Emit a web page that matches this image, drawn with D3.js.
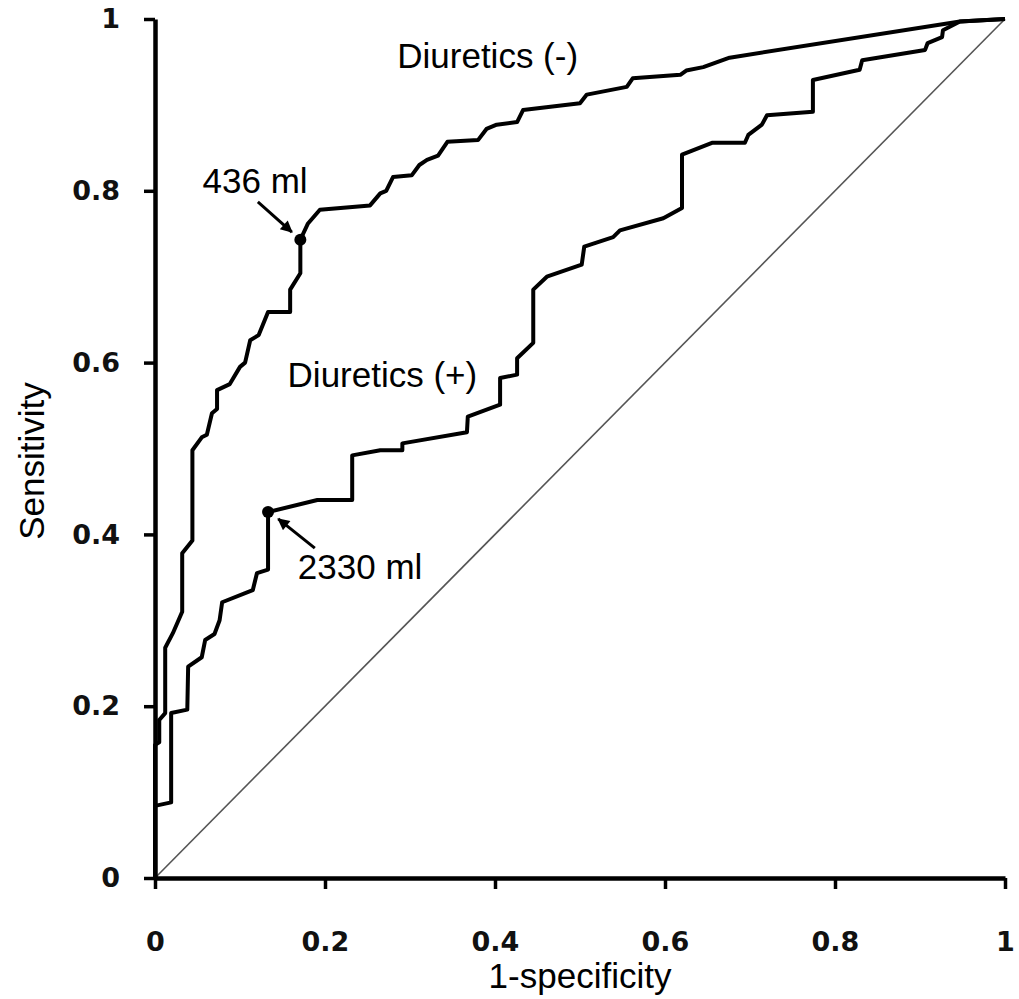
<!DOCTYPE html>
<html>
<head>
<meta charset="utf-8">
<script src="https://cdn.jsdelivr.net/npm/d3@7"></script>
<style>
  body { margin: 0; background: #fff; }
  svg { display: block; }
</style>
</head>
<body>
<div id="chart"></div>
<script>
// ROC points: [1-specificity, sensitivity]
var diureticsNeg = [
    [0, 0], [0, 0.155], [0.005, 0.158], [0.005, 0.184], [0.012, 0.192], [0.012, 0.268],
    [0.021, 0.285], [0.032, 0.31], [0.032, 0.378], [0.044, 0.393], [0.044, 0.498],
    [0.055, 0.513], [0.061, 0.516], [0.067, 0.541], [0.073, 0.546], [0.073, 0.568],
    [0.088, 0.575], [0.1, 0.595], [0.106, 0.6], [0.112, 0.626], [0.122, 0.632],
    [0.133, 0.659], [0.159, 0.659], [0.159, 0.685], [0.171, 0.704], [0.171, 0.743],
    [0.18, 0.762], [0.194, 0.778], [0.253, 0.783], [0.265, 0.797], [0.272, 0.8],
    [0.28, 0.816], [0.302, 0.818], [0.311, 0.83], [0.32, 0.836], [0.333, 0.841],
    [0.344, 0.857], [0.38, 0.859], [0.39, 0.872], [0.402, 0.877], [0.426, 0.88],
    [0.433, 0.894], [0.5, 0.902], [0.508, 0.912], [0.555, 0.921], [0.562, 0.931],
    [0.618, 0.935], [0.625, 0.94], [0.645, 0.944], [0.676, 0.955], [0.947, 0.997],
    [1, 1]
];

var diureticsPos = [
    [0, 0], [0, 0.084], [0.019, 0.088], [0.019, 0.192],
    [0.038, 0.196], [0.039, 0.246], [0.055, 0.257], [0.059, 0.277], [0.07, 0.284],
    [0.076, 0.3], [0.079, 0.321], [0.115, 0.335], [0.12, 0.355], [0.133, 0.359],
    [0.133, 0.426], [0.191, 0.44], [0.232, 0.44], [0.232, 0.492], [0.265, 0.498],
    [0.291, 0.498], [0.291, 0.506], [0.367, 0.519], [0.368, 0.537], [0.406, 0.551],
    [0.406, 0.582], [0.426, 0.586], [0.426, 0.605], [0.445, 0.623], [0.445, 0.685],
    [0.461, 0.7], [0.502, 0.714], [0.505, 0.735], [0.539, 0.746], [0.547, 0.754],
    [0.598, 0.768], [0.62, 0.78], [0.62, 0.842], [0.656, 0.856], [0.694, 0.856],
    [0.698, 0.865], [0.714, 0.877], [0.72, 0.888], [0.774, 0.892], [0.774, 0.929],
    [0.829, 0.941], [0.832, 0.952], [0.906, 0.964], [0.909, 0.972], [0.926, 0.979],
    [0.927, 0.987], [0.947, 0.997], [1, 1]
];

var xTicks = [0, 0.2, 0.4, 0.6, 0.8, 1];
var yTicks = [0, 0.2, 0.4, 0.6, 0.8, 1];
var xTickLabels = ["0", "0.2", "0.4", "0.6", "0.8", "1"];
var yTickLabels = ["0", "0.2", "0.4", "0.6", "0.8", "1"];

var seriesNames = ["Diuretics (-)", "Diuretics (+)"];
var seriesLabelAt = [[0.285, 0.943], [0.156, 0.572]];

// optimal cut-off on each curve
var cutoffValues = ["436 ml", "2330 ml"];
var cutoffPoints = [[0.171, 0.743], [0.133, 0.426]];
var cutoffLabelAt = [[0.056, 0.797], [0.168, 0.348]];
var cutoffArrowFrom = [[0.121, 0.787], [0.188, 0.384]];
var cutoffArrowTo = [[0.161, 0.752], [0.145, 0.418]];

var width = 1019, height = 999;

var svg = d3.select('#chart')
    .append('svg')
    .attr('width', width)
    .attr('height', height);

var x = d3.scaleLinear().domain([0, 1]).range([155, 1005]);
var y = d3.scaleLinear().domain([0, 1]).range([878, 19]);

svg.append('defs').append('marker')
    .attr('id', 'arrow')
    .attr('viewBox', '0 0 10 10')
    .attr('refX', 9)
    .attr('refY', 5)
    .attr('markerUnits', 'userSpaceOnUse')
    .attr('markerWidth', 14)
    .attr('markerHeight', 12)
    .attr('orient', 'auto')
    .append('path')
    .attr('d', 'M0,0 L10,5 L0,10 z')
    .attr('fill', '#000');

// reference diagonal
svg.append('line')
    .attr('x1', x(0)).attr('y1', y(0))
    .attr('x2', x(1)).attr('y2', y(1))
    .attr('stroke', '#555')
    .attr('stroke-width', 1.6);

var line = d3.line()
    .x(function(d) { return x(d[0]); })
    .y(function(d) { return y(d[1]); });

svg.selectAll('path.roc')
    .data([diureticsNeg, diureticsPos])
    .enter()
    .append('path')
    .attr('class', 'roc')
    .attr('d', line)
    .attr('fill', 'none')
    .attr('stroke', '#000')
    .attr('stroke-width', 4)
    .attr('stroke-linejoin', 'round');

// axes
var xAxis = d3.axisBottom(x)
    .tickValues(xTicks)
    .tickFormat(function(d, i) { return xTickLabels[i]; })
    .tickSize(11)
    .tickSizeOuter(0)
    .tickPadding(43);

var yAxis = d3.axisLeft(y)
    .tickValues(yTicks)
    .tickFormat(function(d, i) { return yTickLabels[i]; })
    .tickSize(11)
    .tickSizeOuter(0)
    .tickPadding(24);

var gx = svg.append('g')
    .attr('transform', 'translate(0,' + y(0) + ')')
    .call(xAxis);

var gy = svg.append('g')
    .attr('transform', 'translate(' + x(0) + ',0)')
    .call(yAxis);

[gx, gy].forEach(function(g) {
    g.select('.domain').attr('stroke', '#000').attr('stroke-width', 4.5);
    g.selectAll('.tick line').attr('stroke', '#000').attr('stroke-width', 3.5);
    g.selectAll('.tick text')
        .attr('fill', '#111')
        .style('font-family', '"DejaVu Sans", Verdana, sans-serif')
        .style('font-weight', 'bold')
        .style('font-size', '27px');
});

// axis titles
svg.append('text')
    .attr('x', (x(0) + x(1)) / 2)
    .attr('y', 988)
    .attr('text-anchor', 'middle')
    .style('font-family', '"Liberation Sans", Arial, sans-serif')
    .style('font-size', '35px')
    .text('1-specificity');

svg.append('text')
    .attr('transform', 'translate(44,' + 461 + ') rotate(-90)')
    .attr('text-anchor', 'middle')
    .style('font-family', '"Liberation Sans", Arial, sans-serif')
    .style('font-size', '35px')
    .text('Sensitivity');

// series labels
svg.selectAll('text.series')
    .data(seriesNames)
    .enter()
    .append('text')
    .attr('class', 'series')
    .attr('x', function(d, i) { return x(seriesLabelAt[i][0]); })
    .attr('y', function(d, i) { return y(seriesLabelAt[i][1]); })
    .style('font-family', '"Liberation Sans", Arial, sans-serif')
    .style('font-size', '35px')
    .text(function(d) { return d; });

// cut-off markers, arrows and values
svg.selectAll('circle.cutoff')
    .data(cutoffPoints)
    .enter()
    .append('circle')
    .attr('class', 'cutoff')
    .attr('cx', function(d) { return x(d[0]); })
    .attr('cy', function(d) { return y(d[1]); })
    .attr('r', 6)
    .attr('fill', '#000');

svg.selectAll('line.arrow')
    .data(cutoffArrowFrom)
    .enter()
    .append('line')
    .attr('class', 'arrow')
    .attr('x1', function(d) { return x(d[0]); })
    .attr('y1', function(d) { return y(d[1]); })
    .attr('x2', function(d, i) { return x(cutoffArrowTo[i][0]); })
    .attr('y2', function(d, i) { return y(cutoffArrowTo[i][1]); })
    .attr('stroke', '#000')
    .attr('stroke-width', 3)
    .attr('marker-end', 'url(#arrow)');

svg.selectAll('text.cutoff')
    .data(cutoffValues)
    .enter()
    .append('text')
    .attr('class', 'cutoff')
    .attr('x', function(d, i) { return x(cutoffLabelAt[i][0]); })
    .attr('y', function(d, i) { return y(cutoffLabelAt[i][1]); })
    .style('font-family', '"Liberation Sans", Arial, sans-serif')
    .style('font-size', '35px')
    .text(function(d) { return d; });
</script>
</body>
</html>
